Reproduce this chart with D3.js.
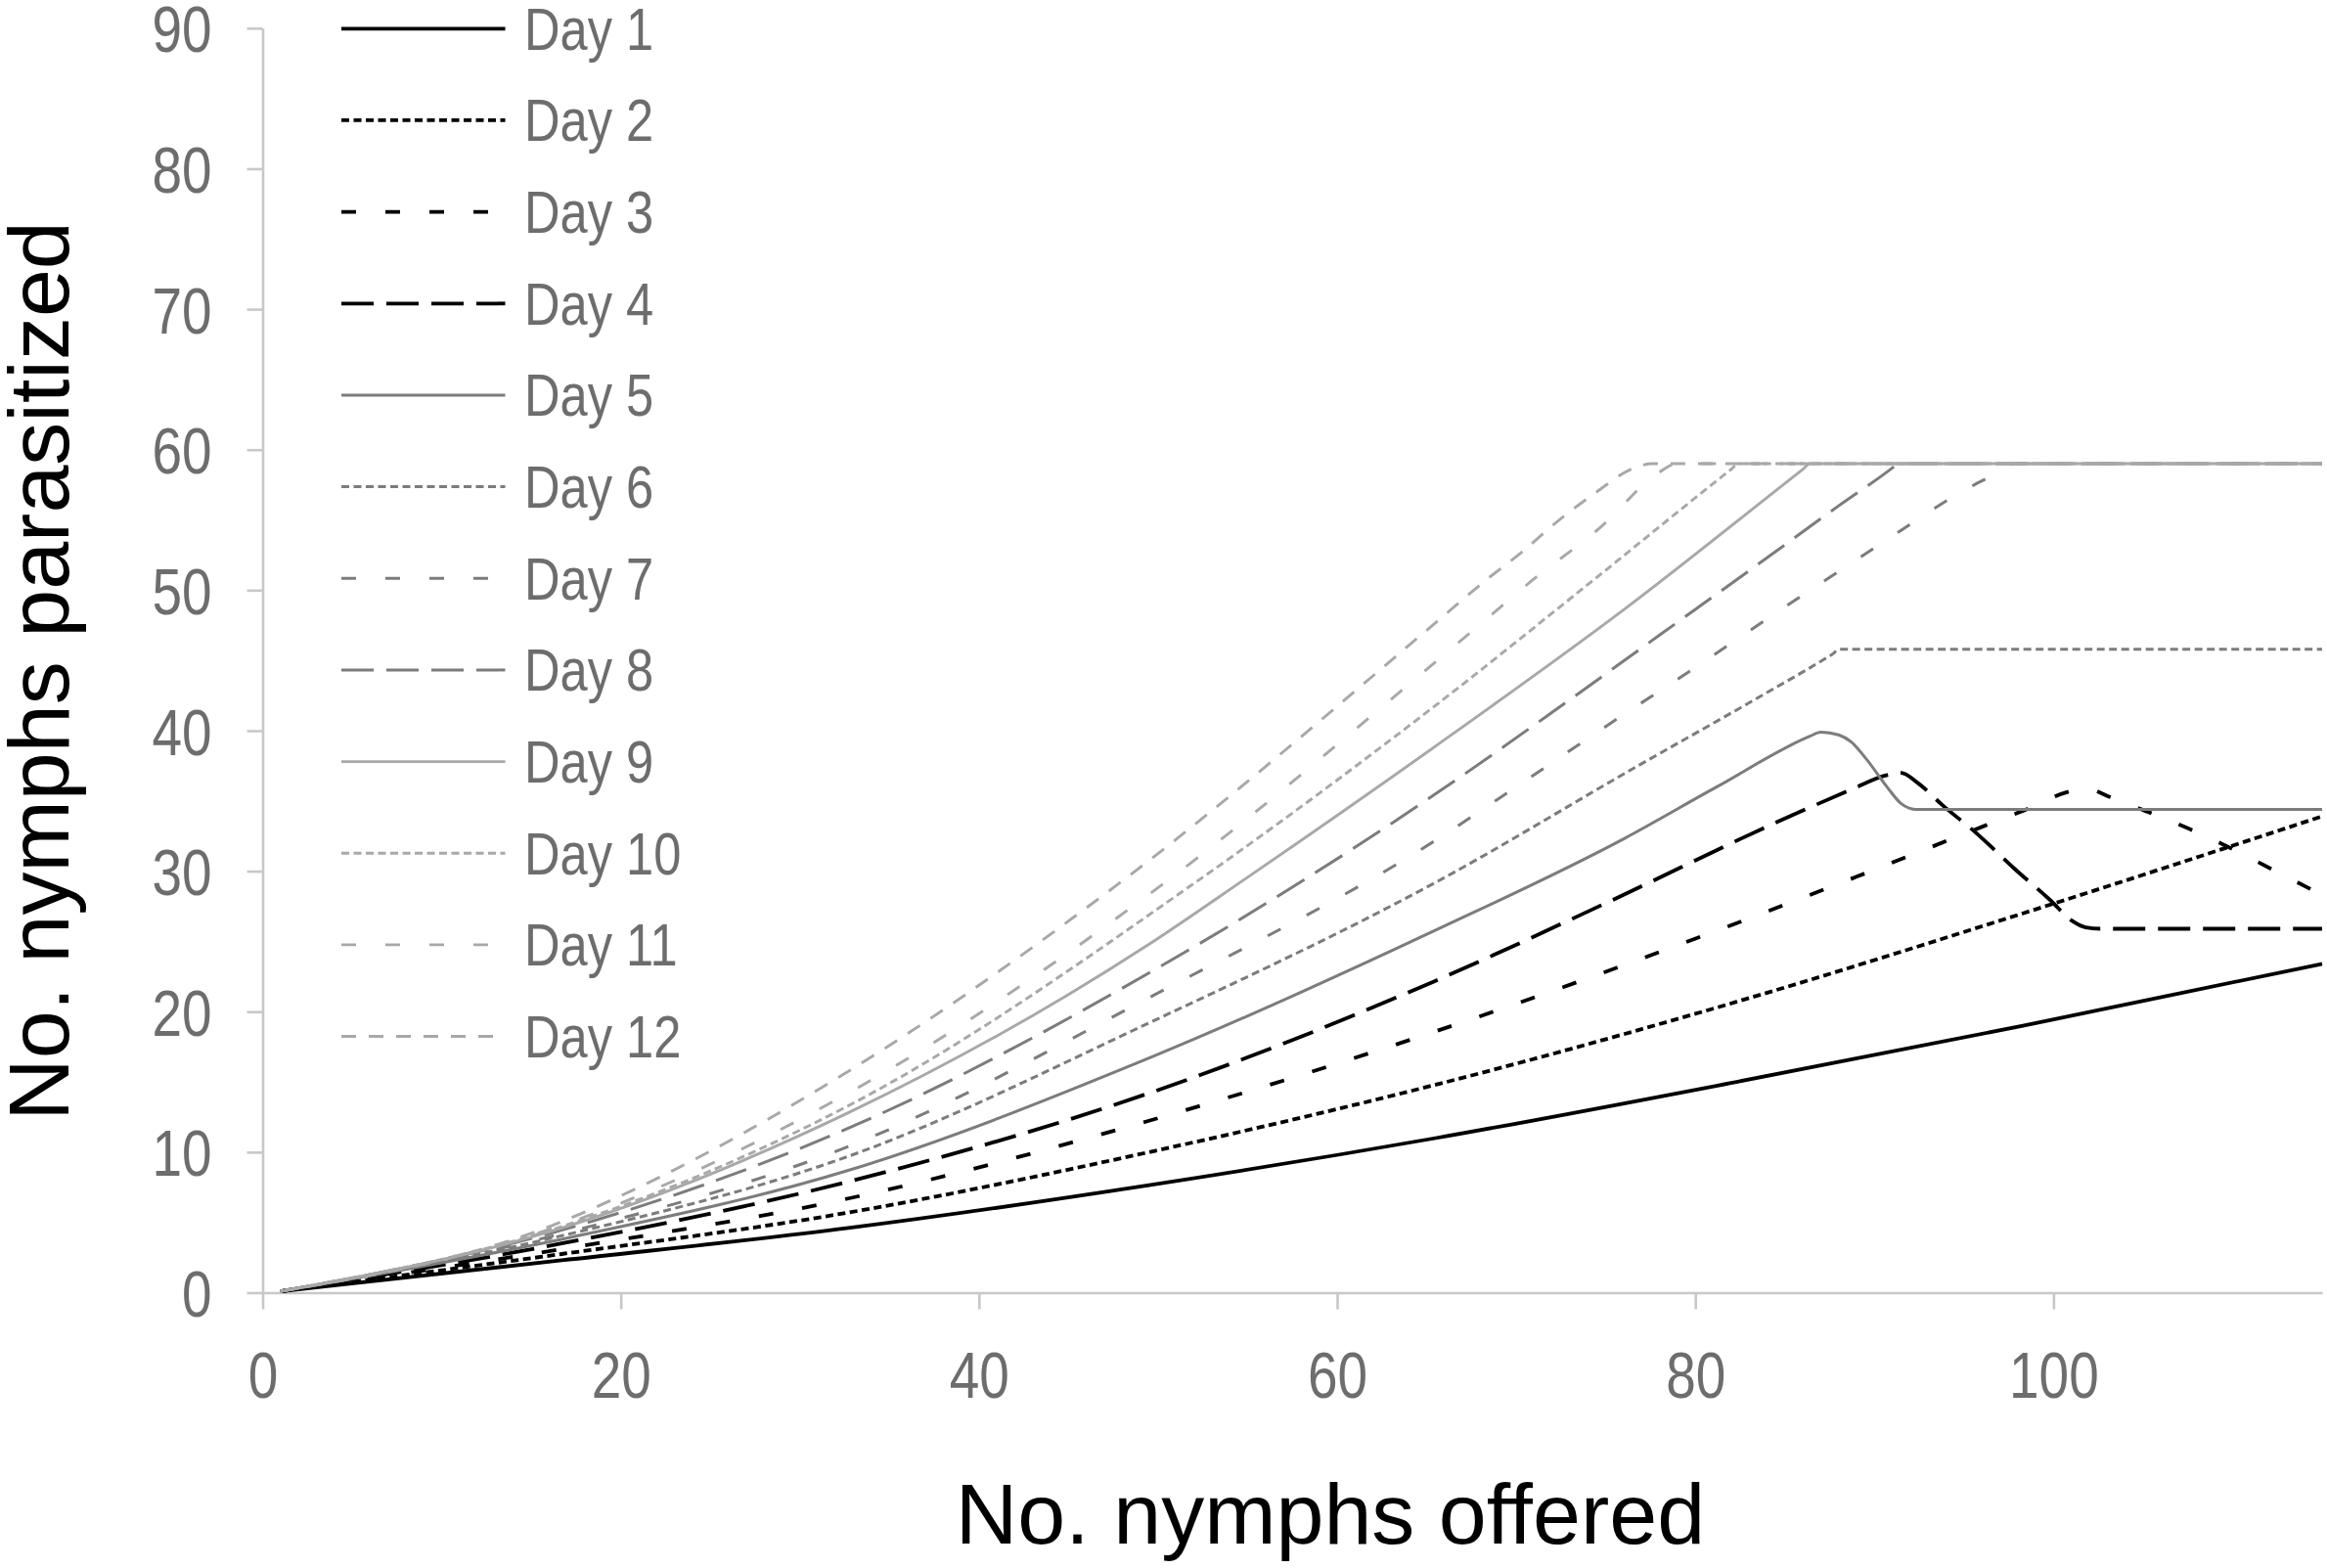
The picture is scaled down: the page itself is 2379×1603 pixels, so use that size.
<!DOCTYPE html>
<html>
<head>
<meta charset="utf-8">
<script src="https://cdn.jsdelivr.net/npm/d3@7"></script>
<style>
  html, body { margin: 0; padding: 0; background: #ffffff; }
  svg { display: block; }
</style>
</head>
<body>
<svg id="chart" width="2379" height="1603"></svg>
<script>
// Number of nymphs parasitized against number offered, one curve per day.
// Each series is a list of [nymphs offered, nymphs parasitized] points.
const dayLabels = ["Day 1", "Day 2", "Day 3", "Day 4", "Day 5", "Day 6",
                   "Day 7", "Day 8", "Day 9", "Day 10", "Day 11", "Day 12"];

const day1 = [[1, 0.1], [16.7, 2.3], [32.7, 4.6], [49.5, 7.65], [65.5, 11.0],
              [82.3, 15.0], [98.3, 19.0], [115, 23.4]];
const day2 = [[1, 0.1], [16.7, 2.75], [32.7, 5.7], [49.5, 10.0], [65.5, 14.8],
              [82.3, 20.7], [98.3, 27.0], [115, 33.9]];
const day3 = [[1, 0.1], [16.7, 3.1], [32.7, 6.7], [49.4, 12.2], [65.5, 18.6],
              [82.1, 26.2], [89.0, 29.6], [96.1, 33.2], [98.4, 34.35], [100.7, 35.6],
              [101.8, 35.9], [103.1, 35.3], [105.3, 34.2], [107.6, 33.0], [109.8, 31.7],
              [112.1, 30.2], [115, 28.3]];
const day4 = [[1, 0.1], [16.7, 3.5], [32.7, 7.9], [49.5, 14.2], [65.5, 22.2],
              [75.3, 27.9], [84.4, 33.4], [88.7, 35.8], [90.6, 36.8], [91.5, 37.0],
              [92.4, 36.3], [93.8, 34.7], [95.7, 32.7], [97.8, 30.2], [99.85, 27.9],
              [101.0, 26.5], [101.8, 26.0], [102.6, 25.9], [115, 25.9]];
const day5 = [[1, 0.1], [16.7, 3.8], [32.7, 8.7], [49.5, 16.7], [65.5, 25.8],
              [76.0, 32.3], [81.2, 36.0], [86.4, 39.6], [87.0, 39.9], [88.0, 39.7],
              [88.7, 39.2], [89.6, 37.9], [90.7, 36.0], [91.5, 34.8], [92.3, 34.4],
              [115, 34.4]];
const day6 = [[1, 0.1], [16.7, 4.05], [32.7, 9.7], [49.5, 19.2], [65.5, 29.2],
              [76.8, 37.5], [83.3, 42.2], [87.6, 45.4], [88.1, 45.8], [115, 45.8]];
const day7 = [[1, 0.1], [16.7, 4.2], [32.7, 10.4], [50.1, 21.4], [65.5, 32.2],
              [70.0, 36.0], [75.0, 40.3], [80.0, 44.5], [85.0, 48.8], [90.0, 53.0],
              [95.0, 57.1], [97.5, 58.8], [97.75, 59], [115, 59]];
const day8 = [[1, 0.1], [16.7, 4.45], [32.7, 11.7], [50.1, 23.2], [65.5, 35.5],
              [72.0, 41.3], [78.0, 46.8], [84.0, 52.3], [88.0, 56.0], [91.0, 58.7],
              [91.3, 59], [115, 59]];
const day9 = [[1, 0.1], [16.7, 4.6], [32.7, 12.8], [49.5, 24.8], [54.7, 29.3],
              [65.5, 38.9], [76.0, 48.6], [86.0, 58.6], [86.4, 59], [115, 59]];
const day10 = [[1, 0.1], [16.7, 4.7], [32.7, 13.3], [52.2, 29.3], [65.5, 41.8],
               [73.9, 50.3], [82.0, 58.6], [82.4, 59], [115, 59]];
const day11 = [[1, 0.1], [16.7, 4.8], [32.7, 14.2], [50.5, 29.3], [65.5, 44.9],
               [68.85, 48.5], [70.8, 50.6], [74.9, 54.7], [77.5, 57.9], [79.0, 59], [115, 59]];
const day12 = [[1, 0.1], [16.3, 4.85], [21.9, 8.05], [32.0, 15.2], [48.0, 29.3],
               [65.7, 47.9], [68.2, 50.6], [70.3, 52.7], [72.4, 55.0], [74.5, 57.0],
               [76.4, 58.6], [77.6, 59], [115, 59]];

const dayValues = [day1, day2, day3, day4, day5, day6, day7, day8, day9, day10, day11, day12];

const xTicks = [0, 20, 40, 60, 80, 100];
const yTicks = [0, 10, 20, 30, 40, 50, 60, 70, 80, 90];

// Line styles: three grey levels, four dash patterns.
const lineColors = ["#000000", "#000000", "#000000", "#000000",
                    "#7c7c7c", "#7c7c7c", "#7c7c7c", "#7c7c7c",
                    "#a8a8a8", "#a8a8a8", "#a8a8a8", "#a8a8a8"];
const lineWidths = [3.8, 3.8, 3.8, 3.8, 3, 3, 3, 3, 2.9, 2.9, 2.9, 2.9];
const lineDashes = ["none", "8 4.5", "15 30", "33 13",
                    "none", "8 4.5", "15 30", "33 13",
                    "none", "8 4.5", "15 30", "15 13"];

const svg = d3.select("#chart");
const W = 2379, H = 1603;

const x = d3.scaleLinear().domain([0, 115]).range([268.5, 2374]);
const y = d3.scaleLinear().domain([0, 90]).range([1321.5, 28.8]);

const sans = "'Liberation Sans', Arial, sans-serif";
const condense = 0.82;           // narrow lettering for ticks and legend
const axisGrey = "#c8c8c8";
const textGrey = "#6d6d6d";

svg.append("rect").attr("width", W).attr("height", H).attr("fill", "#ffffff");

// Axes
const yPad = 36, ySize = 16;
const yAxis = svg.append("g")
  .attr("transform", `translate(${x(0)},0)`)
  .call(d3.axisLeft(y).tickValues(yTicks).tickSize(ySize).tickSizeOuter(0).tickPadding(yPad));
const xAxis = svg.append("g")
  .attr("transform", `translate(0,${y(0)})`)
  .call(d3.axisBottom(x).tickValues(xTicks).tickSize(17).tickSizeOuter(0).tickPadding(43));

[yAxis, xAxis].forEach(g => {
  g.select(".domain").attr("stroke", axisGrey).attr("stroke-width", 2.6);
  g.selectAll(".tick line").attr("stroke", axisGrey).attr("stroke-width", 2.6);
  g.selectAll(".tick text")
    .attr("fill", textGrey)
    .style("font-family", sans)
    .style("font-size", "67px");
});
// Condense tick labels about their anchor points
const yAnchor = -(ySize + yPad);
yAxis.selectAll(".tick text")
  .attr("dy", "0.36em")
  .attr("x", 0)
  .attr("transform", `translate(${yAnchor},0) scale(${condense},1)`);
xAxis.selectAll(".tick text")
  .attr("transform", `scale(${condense},1)`);

// Curves
const line = d3.line()
  .x(d => x(d[0]))
  .y(d => y(d[1]))
  .curve(d3.curveMonotoneX);

svg.append("g")
  .selectAll("path")
  .data(dayValues)
  .join("path")
  .attr("d", line)
  .attr("fill", "none")
  .attr("stroke", (d, i) => lineColors[i])
  .attr("stroke-width", (d, i) => lineWidths[i])
  .attr("stroke-dasharray", (d, i) => lineDashes[i])
  .attr("stroke-linejoin", "round");

// Legend
const legend = svg.append("g");
const legendRow = i => 29.3 + i * 93.66;
dayLabels.forEach((label, i) => {
  legend.append("line")
    .attr("x1", 349).attr("x2", 516.5)
    .attr("y1", legendRow(i)).attr("y2", legendRow(i))
    .attr("stroke", lineColors[i])
    .attr("stroke-width", lineWidths[i])
    .attr("stroke-dasharray", lineDashes[i]);
  legend.append("text")
    .attr("transform", `translate(536,${legendRow(i)}) scale(0.83,1)`)
    .attr("dy", "0.35em")
    .attr("fill", textGrey)
    .style("font-family", sans)
    .style("font-size", "61px")
    .text(label);
});

// Axis titles
svg.append("text")
  .attr("x", 1360).attr("y", 1578)
  .attr("text-anchor", "middle")
  .attr("fill", "#000000")
  .style("font-family", sans)
  .style("font-size", "88px")
  .text("No. nymphs offered");

svg.append("text")
  .attr("transform", "translate(70,686) rotate(-90)")
  .attr("text-anchor", "middle")
  .attr("fill", "#000000")
  .style("font-family", sans)
  .style("font-size", "88px")
  .text("No. nymphs parasitized");
</script>
</body>
</html>
